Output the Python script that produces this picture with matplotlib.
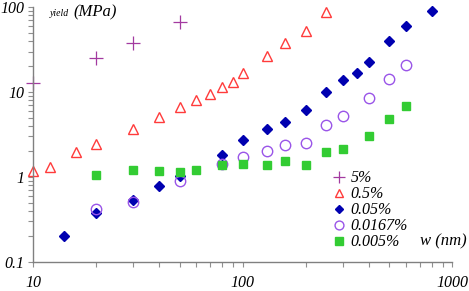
import matplotlib
matplotlib.use("Agg")
import matplotlib.pyplot as plt
from matplotlib.ticker import LogLocator, NullFormatter, FixedLocator, FixedFormatter

# data
x_5 = [10, 20, 30, 50]
y_5 = [12.7, 25, 37.7, 66.7]

x_05 = [10, 12, 16, 20, 30, 40, 50, 60, 70, 80, 90, 100, 130, 160, 200, 250]
y_05 = [1.17, 1.30, 1.95, 2.43, 3.65, 5.06, 6.64, 8.0, 9.45, 11.4, 13.1, 16.7, 26.5, 37.7, 52, 87.5]

x_005 = [14, 20, 30, 40, 50, 80, 100, 130, 160, 200, 250, 300, 350, 400, 500, 600, 800]
y_005 = [0.2, 0.38, 0.53, 0.78, 1.03, 1.8, 2.76, 3.72, 4.5, 6.1, 9.9, 13.7, 16.6, 22.7, 39.8, 60.4, 90.7]

x_00167 = [20, 30, 50, 80, 100, 130, 160, 200, 250, 300, 400, 500, 600]
y_00167 = [0.42, 0.51, 0.89, 1.41, 1.72, 2.01, 2.41, 2.52, 4.1, 5.2, 8.6, 14.1, 20.8]

x_0005 = [20, 30, 40, 50, 60, 80, 100, 130, 160, 200, 250, 300, 400, 500, 600]
y_0005 = [1.07, 1.2, 1.17, 1.15, 1.21, 1.40, 1.42, 1.40, 1.56, 1.37, 1.97, 2.16, 3.05, 4.8, 6.9]

labels = ["5%", "0.5%", "0.05%", "0.0167%", "0.005%"]
x_ticks = [10, 100, 1000]
x_ticklabels = ["10", "100", "1000"]
y_ticks = [0.1, 1, 10, 100]
y_ticklabels = ["0.1", "1", "10", "100"]

serif = ["Liberation Serif", "DejaVu Serif"]

fig = plt.figure(figsize=(4.69, 2.91), dpi=100)
ax = fig.add_axes([0.071, 0.0997, 0.893, 0.876])
ax.set_xscale("log")
ax.set_yscale("log")
ax.set_xlim(10, 1000)
ax.set_ylim(0.1, 100)

h1, = ax.plot(x_5, y_5, linestyle="none", marker="+", markersize=10, markeredgewidth=0.9,
              color="#a33aa0", clip_on=False)
h2, = ax.plot(x_05, y_05, linestyle="none", marker="^", markersize=7, markerfacecolor="none",
              markeredgewidth=1.0, markeredgecolor="#ff3b3b", clip_on=False)
h3, = ax.plot(x_005, y_005, linestyle="none", marker="D", markersize=5, color="#0000b0",
              clip_on=False)
h4, = ax.plot(x_00167, y_00167, linestyle="none", marker="o", markersize=7.5, markerfacecolor="none",
              markeredgewidth=1.0, markeredgecolor="#9a55e8", clip_on=False)
h5, = ax.plot(x_0005, y_0005, linestyle="none", marker="s", markersize=6, color="#33cc33",
              clip_on=False)

for s in ["top", "right"]:
    ax.spines[s].set_visible(False)
for s in ["left", "bottom"]:
    ax.spines[s].set_color("#808080")
    ax.spines[s].set_linewidth(1.0)

ax.xaxis.set_major_locator(FixedLocator(x_ticks))
ax.xaxis.set_major_formatter(FixedFormatter(x_ticklabels))
ax.yaxis.set_major_locator(FixedLocator(y_ticks))
ax.yaxis.set_major_formatter(FixedFormatter(y_ticklabels))
ax.xaxis.set_minor_locator(LogLocator(base=10, subs=range(2, 10)))
ax.yaxis.set_minor_locator(LogLocator(base=10, subs=range(2, 10)))
ax.xaxis.set_minor_formatter(NullFormatter())
ax.yaxis.set_minor_formatter(NullFormatter())
ax.tick_params(which="both", direction="out", length=3.5, width=0.8, color="#909090")
ax.tick_params(axis="x", which="major", pad=6)
ax.tick_params(axis="y", which="major", pad=3)
for lab in ax.get_xticklabels() + ax.get_yticklabels():
    lab.set_fontfamily(serif)
    lab.set_fontstyle("italic")
    lab.set_fontsize(11.5)

fig.text(0.107, 0.945, "yield", fontsize=7, style="italic", family=serif, va="baseline")
fig.text(0.156, 0.945, "(MPa)", fontsize=12, style="italic", family=serif, va="baseline")
fig.text(0.995, 0.158, "w (nm)", fontsize=12, style="italic", family=serif, ha="right", va="baseline")

leg = ax.legend([h1, h2, h3, h4, h5], labels, loc="upper left",
                bbox_to_anchor=(0.715, 0.36), frameon=False,
                prop={"family": serif, "style": "italic", "size": 11.5},
                handlelength=0.8, handletextpad=0.3, labelspacing=0.0,
                borderaxespad=0, borderpad=0, markerscale=0.85)

fig.savefig("out.png", dpi=100)
